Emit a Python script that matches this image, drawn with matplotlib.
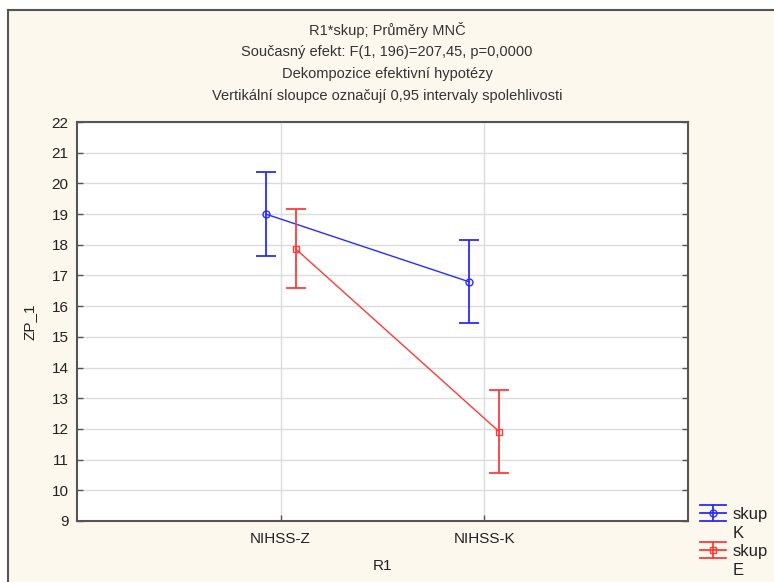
import matplotlib
matplotlib.use("Agg")
import matplotlib.pyplot as plt
from matplotlib.lines import Line2D
from matplotlib.legend_handler import HandlerBase
import numpy as np

plt.rcParams['font.family'] = ['Liberation Sans', 'DejaVu Sans']

categories = ["NIHSS-Z", "NIHSS-K"]
groups = ["K", "E"]
means_K = [19.0, 16.79]
lower_K = [17.64, 15.44]
upper_K = [20.37, 18.15]
means_E = [17.87, 11.91]
lower_E = [16.58, 10.57]
upper_E = [19.17, 13.26]
yticks = list(range(9, 23))

title_lines = ["R1*skup; Průměry MNČ",
               "Současný efekt: F(1, 196)=207,45, p=0,0000",
               "Dekompozice efektivní hypotézy",
               "Vertikální sloupce označují 0,95 intervaly spolehlivosti"]

BLUE = '#2b2bff'
RED = '#ff3a3a'
CREAM = '#fdf8ee'
TXT = '#333333'

fig = plt.figure(figsize=(7.74, 5.82), dpi=100)
fig.patch.set_facecolor('white')
# cream panel (fill only), border on left and top drawn as lines
bx, by = 8/774, 1 - 10/582
panel = plt.Rectangle((bx, 0), 1 - bx, by, transform=fig.transFigure,
                      facecolor=CREAM, edgecolor='none', zorder=-10)
fig.patches.append(panel)
fig.add_artist(Line2D([bx, bx], [0, by], transform=fig.transFigure, color='#555555', lw=1.5, zorder=-9))
fig.add_artist(Line2D([bx, 1], [by, by], transform=fig.transFigure, color='#555555', lw=1.5, zorder=-9))

ax = fig.add_axes([77/774, 1 - 521/582, (688 - 77)/774, (521 - 122)/582])
ax.set_facecolor('white')

x = np.arange(1, len(categories) + 1)
off = 0.073
series = [(means_K, lower_K, upper_K, BLUE, 'o', -off),
          (means_E, lower_E, upper_E, RED, 's', off)]
for (m, lo, up, col, mk, dx) in series:
    m = np.array(m); lo = np.array(lo); up = np.array(up)
    xs = x + dx
    ax.plot(xs, m, color=col, lw=1.0, marker=mk, ms=5, mfc='none', mec=col, mew=1.0, zorder=3)
    ax.errorbar(xs, m, yerr=[m - lo, up - m], fmt='none', ecolor=col, elinewidth=1.3,
                capsize=7, capthick=1.3, zorder=3)

ax.set_xlim(0, 3)
ax.set_ylim(9, 22)
ax.set_yticks(yticks)
ax.set_xticks(x)
ax.set_xticklabels(categories)
ax.grid(True, color='#dcdcdc', lw=1.0, zorder=0)
ax.set_axisbelow(True)
for s in ax.spines.values():
    s.set_color('#555555')
    s.set_linewidth(1.5)
ax.tick_params(axis='both', direction='in', length=4, width=1, color='#555555',
               labelsize=11, labelcolor='#222222', right=True)
ax.tick_params(axis='x', pad=8)
ax.tick_params(axis='y', pad=6)
ax.set_ylabel("ZP_1", fontsize=11, color='#222222', labelpad=11)
ax.set_xlabel("R1", fontsize=11, color='#222222', labelpad=9)

ys = [30.5, 52, 74, 96]
for t, yy in zip(title_lines, ys):
    fig.text(0.5, 1 - yy/582, t, ha='center', va='center', fontsize=10.5, color=TXT)


class ErrHandler(HandlerBase):
    def __init__(self, color, marker, yoff):
        super().__init__()
        self.color = color
        self.marker = marker
        self.yoff = yoff

    def create_artists(self, legend, orig_handle, xdescent, ydescent, width, height, fontsize, trans):
        c = self.color
        cy = height / 2 - ydescent + self.yoff
        h = 6
        arts = []
        for yy in (cy - h, cy, cy + h):
            arts.append(Line2D([-xdescent, -xdescent + width], [yy, yy], color=c, lw=1.3, transform=trans))
        xm = -xdescent + width / 2
        arts.append(Line2D([xm, xm], [cy - h, cy + h], color=c, lw=1.3, transform=trans))
        arts.append(Line2D([xm], [cy], marker=self.marker, ms=5, mfc='none', mec=c, mew=1.0,
                           color=c, transform=trans))
        return arts


hK = Line2D([], [], color=BLUE)
hE = Line2D([], [], color=RED)
leg = fig.legend([hK, hE], ["skup\n" + groups[0], "skup\n" + groups[1]],
                 loc='upper left', bbox_to_anchor=(700/774, 1 - 507/582),
                 frameon=False, fontsize=12, handlelength=1.55, handletextpad=0.4,
                 labelspacing=0.15, borderpad=0, borderaxespad=0,
                 handler_map={hK: ErrHandler(BLUE, 'o', 8.0), hE: ErrHandler(RED, 's', 8.0)})
for t in leg.get_texts():
    t.set_color('#222222')
    t.set_linespacing(1.35)

fig.savefig("out.png", dpi=100, facecolor=fig.get_facecolor())
